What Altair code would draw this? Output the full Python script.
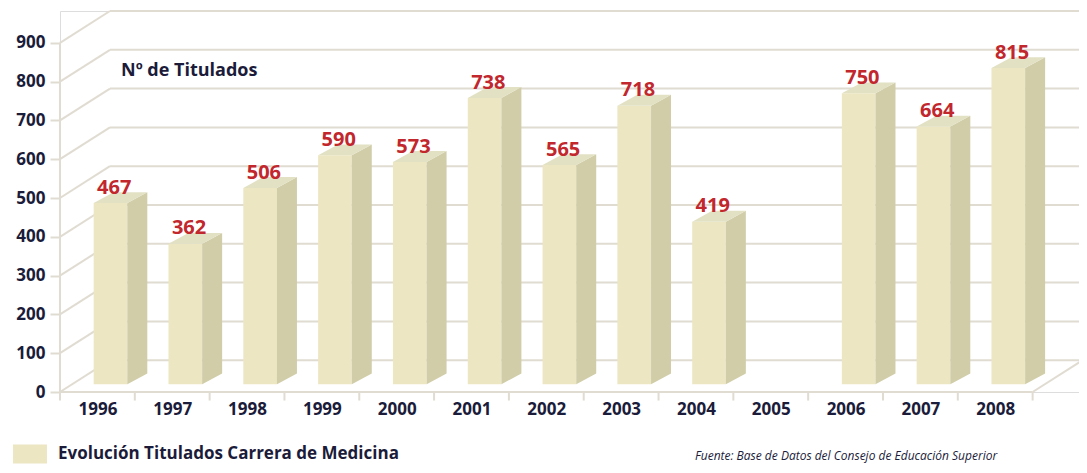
import altair as alt
import pandas as pd

years = [1996, 1997, 1998, 1999, 2000, 2001, 2002, 2003, 2004, 2005, 2006, 2007, 2008]
values = [467, 362, 506, 590, 573, 738, 565, 718, 419, None, 750, 664, 815]
y_ticks = [0, 100, 200, 300, 400, 500, 600, 700, 800, 900]
series_name = "Evolución Titulados Carrera de Medicina"
title_text = "Nº de Titulados"
source_text = "Fuente: Base de Datos del Consejo de Educación Superior"

# 3D geometry (in data units)
WALL_DX, WALL_DY = 0.668, 82      # depth of back wall
BAR_X0, BAR_X1 = 0.45, 0.90       # front face within category
BAR_BASE = 20                     # bars stand slightly back on floor
SIDE_DX, SIDE_DY = 0.267, 28      # bar depth
X_MAX = 13.62
Y_MAX = 982

FRONT = "#ede6c3"
SIDE = "#d0cda8"
TOP = "#e2e1c4"
GRID = "#e0dcd2"
RED = "#c1272d"
NAVY = "#1b1b3a"
FONT = "Open Sans"

n = len(years)
centers = [i + 0.5 for i in range(n)]
xs = alt.Scale(domain=[0, X_MAX], nice=False, zero=False)
ys = alt.Scale(domain=[0, Y_MAX], nice=False, zero=False)

X_AX = alt.Axis(
    values=centers, title=None, domain=False, grid=False,
    ticks=False, labelPadding=9, labelExpr="toString(datum.value + 1995.5)",
    labelFont=FONT, labelFontSize=17, labelFontWeight="bold", labelColor=NAVY,
)
Y_AX = alt.Axis(
    values=y_ticks, title=None, domain=False, grid=False,
    tickSize=10, tickColor=GRID, tickWidth=2, labelPadding=5,
    labelFont=FONT, labelFontSize=17, labelFontWeight="bold", labelColor=NAVY,
)


def X(field):
    return alt.X(field, scale=xs, axis=X_AX)


def Y(field):
    return alt.Y(field, scale=ys, axis=Y_AX)


# back wall gridlines and slanted side-wall lines
grid_df = pd.DataFrame({"v": y_ticks})
grid_df["yb"] = grid_df["v"] + WALL_DY
grid_df["xa"] = WALL_DX
grid_df["xb"] = n + WALL_DX + 1
grid_df["x0"] = 0.0

back_lines = alt.Chart(grid_df).mark_rule(color=GRID, strokeWidth=2).encode(
    x=X("xa:Q"), x2="xb:Q", y=Y("yb:Q"),
)
side_lines = alt.Chart(grid_df).mark_rule(color=GRID, strokeWidth=2).encode(
    x=X("x0:Q"), x2="xa:Q", y=Y("v:Q"), y2="yb:Q",
)

floor_df = pd.DataFrame({
    "x": [0.0, float(n), 0.0],
    "x2": [float(n), n + WALL_DX, 0.0],
    "y": [0, 0, 0],
    "y2": [0, WALL_DY, 900],
})
floor_lines = alt.Chart(floor_df).mark_rule(color=GRID, strokeWidth=2).encode(
    x=X("x:Q"), x2="x2:Q", y=Y("y:Q"), y2="y2:Q",
)

tick_df = pd.DataFrame({"x": [float(i) for i in range(n + 1)], "y": 0, "y2": -22})
x_ticks = alt.Chart(tick_df).mark_rule(color=GRID, strokeWidth=2).encode(
    x=X("x:Q"), y=Y("y:Q"), y2="y2:Q",
)

# bars
bars = pd.DataFrame({"year": years, "value": values, "i": range(n)})
bars = bars.dropna().copy()
bars["value"] = bars["value"].astype(int)
bars["serie"] = series_name
bars["x0"] = bars["i"] + BAR_X0
bars["x1"] = bars["i"] + BAR_X1
bars["yb"] = BAR_BASE
bars["yt"] = bars["value"] + BAR_BASE
bars["xc"] = (bars["x0"] + bars["x1"]) / 2 + 0.05
bars["ylab"] = bars["yt"] + SIDE_DY - 4

front = alt.Chart(bars).mark_rect(strokeWidth=0).encode(
    x=X("x0:Q"), x2="x1:Q", y=Y("yb:Q"), y2="yt:Q",
    color=alt.Color("serie:N", scale=alt.Scale(range=[FRONT]), legend=alt.Legend(
        title=None, orient="none", legendX=-47, legendY=426,
        symbolType="M-1,-0.56L1,-0.56L1,0.56L-1,0.56Z", symbolSize=1156,
        symbolStrokeWidth=0, symbolOpacity=1,
        labelFont=FONT, labelFontSize=17, labelFontWeight="bold", labelColor=NAVY,
        labelOffset=11, labelLimit=600,
    )),
)

side_rows = []
top_rows = []
for _, r in bars.iterrows():
    side_rows.append({"year": r["year"], "x": r["x1"], "y": r["yb"], "y2": r["yt"]})
    side_rows.append({"year": r["year"], "x": r["x1"] + SIDE_DX, "y": r["yb"] + SIDE_DY, "y2": r["yt"] + SIDE_DY})
    t = r["yt"]
    top_rows.append({"year": r["year"], "x": r["x0"], "y": t, "y2": t})
    top_rows.append({"year": r["year"], "x": r["x0"] + SIDE_DX, "y": t, "y2": t + SIDE_DY})
    top_rows.append({"year": r["year"], "x": r["x1"], "y": t, "y2": t + SIDE_DY})
    top_rows.append({"year": r["year"], "x": r["x1"] + SIDE_DX, "y": t + SIDE_DY, "y2": t + SIDE_DY})
side_df = pd.DataFrame(side_rows)
top_df = pd.DataFrame(top_rows)

side = alt.Chart(side_df).mark_area(color=SIDE, opacity=1).encode(
    x=X("x:Q"), y=Y("y:Q"), y2="y2:Q", detail="year:N",
)
top = alt.Chart(top_df).mark_area(color=TOP, opacity=1).encode(
    x=X("x:Q"), y=Y("y:Q"), y2="y2:Q", detail="year:N",
)

labels = alt.Chart(bars).mark_text(
    font=FONT, fontSize=20, fontWeight="bold", color=RED, baseline="alphabetic", align="center"
).encode(
    x=X("xc:Q"), y=Y("ylab:Q"), text="value:Q",
)

title = alt.Chart(pd.DataFrame({"t": [title_text]})).mark_text(
    font=FONT, fontSize=18, fontWeight="bold", color=NAVY, align="left", baseline="middle"
).encode(x=alt.value(61), y=alt.value(60), text="t:N")

source = alt.Chart(pd.DataFrame({"t": [source_text]})).mark_text(
    font=FONT, fontSize=12, fontStyle="italic", color=NAVY, align="left", baseline="middle"
).encode(x=alt.value(635), y=alt.value(445), text="t:N")

chart = alt.layer(
    back_lines, side_lines, floor_lines, x_ticks,
    front, side, top, labels, title, source,
).properties(
    width=1019, height=381,
    autosize=alt.AutoSizeParams(type="none"),
    padding={"left": 52, "top": 3, "right": 0, "bottom": 73},
).configure_view(stroke=None).configure(background="white")

chart.save("out.html", embed_options={"renderer": "svg", "actions": False})
